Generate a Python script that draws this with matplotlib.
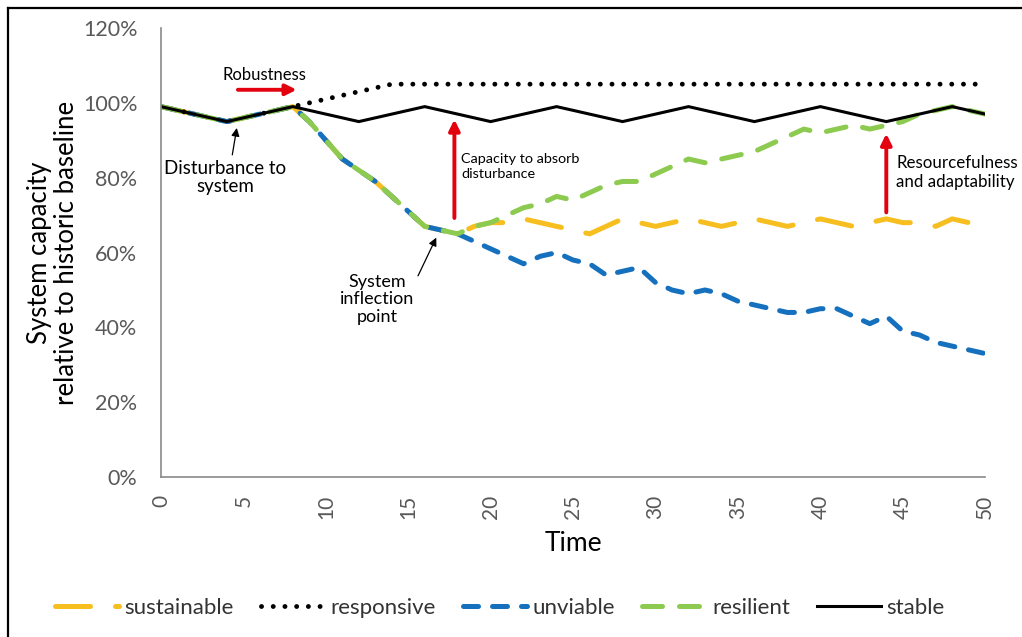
import matplotlib.pyplot as plt
from matplotlib.lines import Line2D
from matplotlib.ticker import PercentFormatter

plt.rcParams['font.family'] = ['Lato', 'DejaVu Sans']

# data (percent of baseline), time 0..50
time = list(range(51))

stable = [99, 98, 97, 96, 95, 96, 97, 98] * 6 + [99, 98, 97]

responsive = [99, 98, 97, 96, 95, 96, 97, 98, 99, 100, 101, 102, 103, 104] + [105] * 37

decline = [99, 98, 97, 96, 95, 96, 97, 98, 99, 95, 90, 85, 82, 79, 75, 71, 67, 66, 65]

sustainable = decline + [67, 68, 68, 69, 68, 67, 66, 65, 67, 69, 68, 67, 68, 69, 68, 67,
                         68, 69, 68, 67, 68, 69, 68, 67, 68, 69, 68, 68, 67, 69, 68, 68]

unviable = decline + [63, 61, 59, 57, 59, 60, 58, 57, 54, 55, 56, 52, 50, 49, 50, 49,
                      47, 46, 45, 44, 44, 45, 45, 43, 41, 43, 39, 38, 36, 35, 34, 33]

resilient = decline + [67, 68, 70, 72, 73, 75, 74, 76, 78, 79, 79, 81, 83, 85, 84, 85,
                       86, 87, 89, 91, 93, 92, 93, 94, 93, 94, 95, 97, 98, 99, 98, 97]

x_ticks = list(range(0, 51, 5))
y_ticks = list(range(0, 121, 20))

fig = plt.figure(figsize=(10.22, 6.37), dpi=100)
ax = fig.add_axes([0.1575, 0.251, 0.8065, 0.705])

ax.plot(time, sustainable, color='#F7BE1F', lw=3.6, dashes=(7, 5),
        dash_capstyle='round', label='sustainable')
ax.plot(time, responsive, color='black', lw=3.5, dashes=(0.01, 2.4),
        dash_capstyle='round', label='responsive')
ax.plot(time, unviable, color='#1570BE', lw=3.6, dashes=(3, 2.8),
        dash_capstyle='round', label='unviable')
ax.plot(time, resilient, color='#8CCB50', lw=3.6, dashes=(4, 3.4),
        dash_capstyle='round', label='resilient')
ax.plot(time, stable, color='black', lw=2.2, solid_joinstyle='miter', label='stable')

ax.set_xlim(0, 50)
ax.set_ylim(0, 120)
ax.set_xticks(x_ticks)
ax.set_yticks(y_ticks)
ax.yaxis.set_major_formatter(PercentFormatter(decimals=0))
ax.tick_params(axis='both', length=0, colors='#595959')
ax.tick_params(axis='y', labelsize=15.5, pad=17)
ax.tick_params(axis='x', labelsize=15, labelrotation=90, pad=13)
for s in ['top', 'right']:
    ax.spines[s].set_visible(False)
for s in ['left', 'bottom']:
    ax.spines[s].set_color('#8a8a8a')
    ax.spines[s].set_linewidth(1.2)

ax.set_xlabel('Time', fontsize=19, labelpad=8)
ax.set_ylabel('System capacity\nrelative to historic baseline', fontsize=18.5, labelpad=3,
              linespacing=1.1)

red = '#E3000F'
ax.annotate('', xy=(8.4, 103.5), xytext=(4.5, 103.5),
            arrowprops=dict(arrowstyle='-|>', color=red, lw=2.8, mutation_scale=16))
ax.text(6.3, 107.5, 'Robustness', fontsize=12, ha='center', va='center')

ax.annotate('', xy=(17.8, 96.3), xytext=(17.8, 68.5),
            arrowprops=dict(arrowstyle='-|>', color=red, lw=2.8, mutation_scale=16))
ax.text(18.2, 83, 'Capacity to absorb\ndisturbance', fontsize=10.4, ha='left', va='center',
        linespacing=1.35)

ax.annotate('', xy=(44.0, 92.5), xytext=(44.0, 70),
            arrowprops=dict(arrowstyle='-|>', color=red, lw=2.8, mutation_scale=16))
ax.text(44.6, 81.3, 'Resourcefulness\nand adaptability', fontsize=12.2, ha='left',
        va='center', linespacing=1.25)

ax.annotate('Disturbance to\nsystem', xy=(4.6, 93.3), xytext=(3.9, 80),
            fontsize=13.5, ha='center', va='center', linespacing=1.05,
            arrowprops=dict(arrowstyle='-|>', color='black', lw=0.9, mutation_scale=12,
                            relpos=(0.55, 1), shrinkA=2, shrinkB=0))
ax.annotate('System\ninflection\npoint', xy=(16.7, 64), xytext=(13.1, 47.5),
            fontsize=13, ha='center', va='center', linespacing=1.1,
            arrowprops=dict(arrowstyle='-|>', color='black', lw=0.9, mutation_scale=12,
                            relpos=(1, 0.8), shrinkA=2, shrinkB=0))

fig.legend(loc='center', bbox_to_anchor=(0.489, 0.046), ncol=5, frameon=False,
           fontsize=16, handlelength=2.9, handletextpad=0.25, columnspacing=1.2,
           labelcolor='#333333')

# chart frame (top and left edges)
fig.add_artist(Line2D([0.0078, 1.0], [0.9874, 0.9874], transform=fig.transFigure,
                      color='black', lw=1.6))
fig.add_artist(Line2D([0.0078, 0.0078], [0.0, 0.9874], transform=fig.transFigure,
                      color='black', lw=1.6))

fig.savefig('out.png', dpi=100)
